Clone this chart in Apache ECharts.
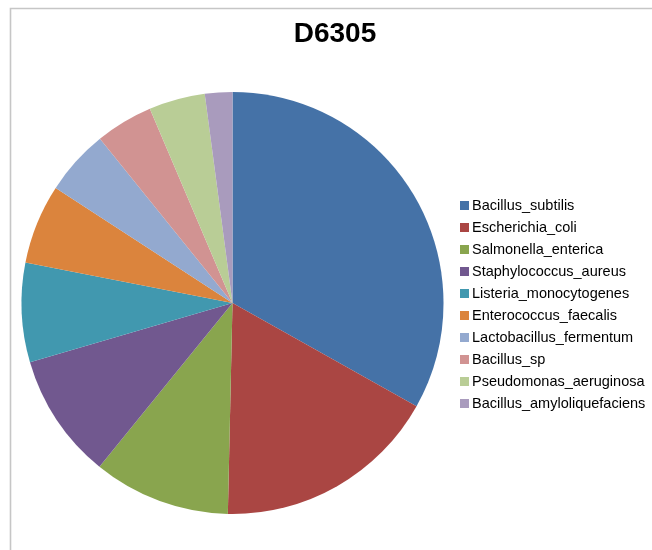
<!DOCTYPE html>
<html>
<head>
<meta charset="utf-8">
<style>
  html, body { margin: 0; padding: 0; background: #fff; }
  #chart { width: 652px; height: 550px; }
</style>
<script src="https://cdn.jsdelivr.net/npm/echarts@6/dist/echarts.min.js"></script>
</head>
<body>
<div id="chart"></div>
<script>
// Species composition of sample D6305 (percent of total)
const species = [
  'Bacillus_subtilis',
  'Escherichia_coli',
  'Salmonella_enterica',
  'Staphylococcus_aureus',
  'Listeria_monocytogenes',
  'Enterococcus_faecalis',
  'Lactobacillus_fermentum',
  'Bacillus_sp',
  'Pseudomonas_aeruginosa',
  'Bacillus_amyloliquefaciens'
];
const shares = [33.1, 17.2, 10.5, 9.6, 7.6, 6.1, 5.0, 4.4, 4.3, 2.1];
const palette = ['#4572A7', '#AA4643', '#89A54E', '#71588F', '#4198AF',
                 '#DB843D', '#93A9CF', '#D19392', '#B9CD96', '#A99BBD'];

const chart = echarts.init(document.getElementById('chart'), null, { renderer: 'canvas' });

chart.setOption({
  animation: false,
  backgroundColor: '#ffffff',
  color: palette,
  title: {
    text: 'D6305',
    left: 330,
    textAlign: 'center',
    top: 15,
    textStyle: {
      fontFamily: 'Liberation Sans, Arial, sans-serif',
      fontSize: 28,
      fontWeight: 'bold',
      color: '#000'
    }
  },
  legend: {
    orient: 'vertical',
    left: 455,
    top: 193,
    itemWidth: 9,
    itemHeight: 9,
    itemGap: 7,
    icon: 'rect',
    selectedMode: false,
    textStyle: {
      fontFamily: 'Liberation Sans, Arial, sans-serif',
      fontSize: 14.5,
      lineHeight: 14,
      color: '#000',
      padding: [0, 0, 0, -2]
    },
    data: species
  },
  graphic: [{
    type: 'polyline',
    silent: true,
    shape: { points: [[10.5, 560], [10.5, 8.5], [660, 8.5]] },
    style: { stroke: '#c6c6c6', lineWidth: 1.6, fill: null }
  }],
  series: [{
    type: 'pie',
    center: [232.5, 303],
    radius: 211,
    startAngle: 90,
    clockwise: true,
    silent: true,
    label: { show: false },
    labelLine: { show: false },
    itemStyle: { borderWidth: 0 },
    data: species.map((name, i) => ({ name, value: shares[i] }))
  }]
});
</script>
</body>
</html>
